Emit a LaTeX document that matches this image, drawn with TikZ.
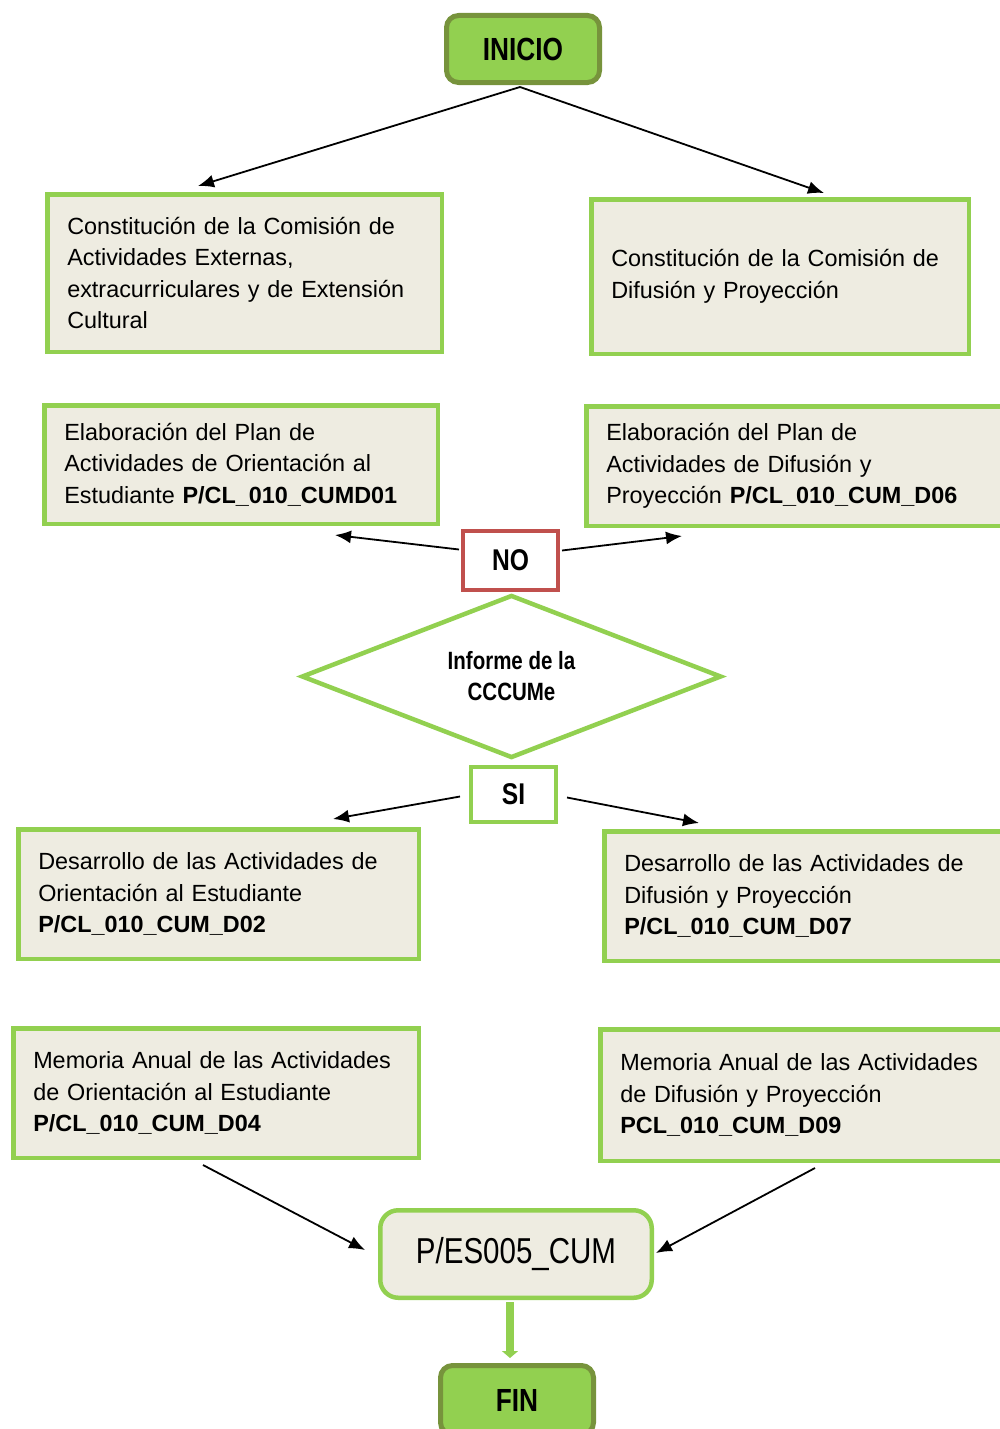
\documentclass[tikz,border=0pt]{standalone}
\usepackage{fontspec}
\setmainfont{Liberation Sans}
\newfontfamily\estrecha[FakeStretch=0.82]{Liberation Sans}
\usetikzlibrary{shapes.geometric,arrows.meta}
\definecolor{verde}{HTML}{92D050}
\definecolor{oliva}{HTML}{77933C}
\definecolor{beige}{HTML}{EEECE1}
\definecolor{rojo}{HTML}{C0504D}
\begin{document}
\begin{tikzpicture}[x=1pt,y=-1pt,
    caja/.style = {shape=rectangle, draw=verde, line width=4.5pt, fill=beige,
      align=left, inner xsep=20pt, font=\fontsize{23.4}{31.5}\selectfont},
    terminal/.style = {shape=rectangle, rounded corners=12pt, draw=oliva, line width=5pt,
      fill=verde, minimum width=153pt, minimum height=67pt,
      font=\estrecha\bfseries\fontsize{32}{36}\selectfont},
    etiqueta/.style = {shape=rectangle, line width=4pt, fill=white,
      font=\estrecha\bfseries\fontsize{30}{34}\selectfont},
    flecha/.style = {-{Latex[length=16pt,width=13pt]}, line width=1.8pt}]
  \useasboundingbox (0,0) rectangle (999,1429);

  \node[terminal] (inicio) at (523,49) {INICIO};

  \node[caja, minimum width=394.5pt, minimum height=157.5pt, text width=354.5pt] (a1) at (244.5,273)
    {Constitución de la Comisión de\\Actividades Externas,\\extracurriculares y de Extensión\\Cultural};
  \node[caja, minimum width=377.5pt, minimum height=154.5pt, text width=337.5pt] (b1) at (780,276.5)
    {Constitución de la Comisión de\\Difusión y Proyección};

  \node[caja, minimum width=393.5pt, minimum height=118.5pt, text width=353.5pt] (a2) at (241,464.5)
    {Elaboración del Plan de\\Actividades de Orientación al\\Estudiante \textbf{P/CL\_010\_CUMD01}};
  \node[caja, minimum width=415.5pt, minimum height=119.5pt, text width=375.5pt] (b2) at (794,466)
    {Elaboración del Plan de\\Actividades de Difusión y\\Proyección \textbf{P/CL\_010\_CUM\_D06}};

  \node[etiqueta, draw=rojo, minimum width=95pt, minimum height=59pt] (no) at (510.5,560.5) {NO};

  \node[shape=diamond, aspect=2.6, draw=verde, line width=4.5pt, fill=white, inner sep=0pt,
    minimum width=420pt, minimum height=163pt, align=center,
    font=\estrecha\bfseries\fontsize{25}{31}\selectfont] (informe) at (511.5,676.5)
    {Informe de la\\CCCUMe};

  \node[etiqueta, draw=verde, minimum width=85pt, minimum height=55pt] (si) at (513.5,794.5) {SI};

  \node[caja, minimum width=400.5pt, minimum height=129.5pt, text width=360.5pt] (a3) at (218.5,894)
    {Desarrollo de las Actividades de\\Orientación al Estudiante\\\textbf{P/CL\_010\_CUM\_D02}};
  \node[caja, minimum width=397.5pt, minimum height=129.5pt, text width=357.5pt] (b3) at (803,896)
    {Desarrollo de las Actividades de\\Difusión y Proyección\\\textbf{P/CL\_010\_CUM\_D07}};

  \node[caja, minimum width=405.5pt, minimum height=129.5pt, text width=365.5pt] (a4) at (216,1093)
    {Memoria Anual de las Actividades\\de Orientación al Estudiante\\\textbf{P/CL\_010\_CUM\_D04}};
  \node[caja, minimum width=401.5pt, minimum height=131.5pt, text width=361.5pt] (b4) at (801,1095)
    {Memoria Anual de las Actividades\\de Difusión y Proyección\\\textbf{PCL\_010\_CUM\_D09}};

  \node[shape=rectangle, rounded corners=18pt, draw=verde, line width=4.5pt, fill=beige,
    minimum width=271.5pt, minimum height=87.5pt,
    font=\estrecha\fontsize{36}{40}\selectfont] (es) at (516,1254) {P/ES005\_CUM};

  \node[terminal, minimum height=69pt] (fin) at (517,1400) {FIN};

  \draw[flecha] ([shift={(-3,2)}]inicio.south) -- ([shift={(-46.5,-6)}]a1.north);
  \draw[flecha] ([shift={(-3,2)}]inicio.south) -- ([shift={(44,-4)}]b1.north);
  \draw[flecha] ([shift={(-2,-11)}]no.west) -- ([shift={(-105,9)}]a2.south east);
  \draw[flecha] ([shift={(2,-10)}]no.east) -- ([shift={(98,8)}]b2.south west);
  \draw[flecha] ([shift={(-9,2)}]si.west) -- ([shift={(-88,-8)}]a3.north east);
  \draw[flecha] ([shift={(9,3)}]si.east) -- ([shift={(97,-6)}]b3.north west);
  \draw[flecha] ([shift={(-13,5)}]a4.south) -- ([shift={(-13,-4)}]es.west);
  \draw[flecha] ([shift={(14,5)}]b4.south) -- ([shift={(2,-1)}]es.east);
  \draw[verde, line width=8pt, -{Triangle[length=7pt,width=16pt]}]
    ([shift={(-6,2)}]es.south) -- ([shift={(-7,-5)}]fin.north);
\end{tikzpicture}
\end{document}
